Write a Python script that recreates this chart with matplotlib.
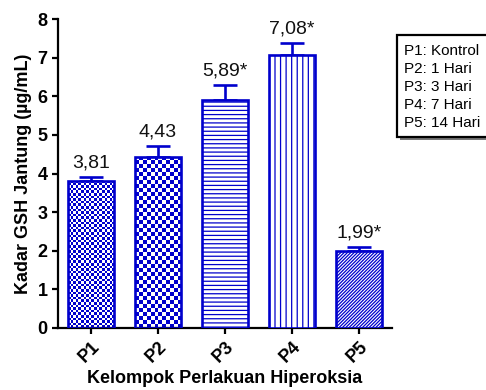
import numpy as np
import matplotlib
matplotlib.use("Agg")
import matplotlib.pyplot as plt
from matplotlib.patches import Rectangle
from matplotlib.colors import ListedColormap

plt.rcParams['font.family'] = ['Liberation Sans', 'DejaVu Sans']
plt.rcParams['hatch.linewidth'] = 0.9

# Data
groups = ["P1", "P2", "P3", "P4", "P5"]
means = [3.81, 4.43, 5.89, 7.08, 1.99]
errors = [0.10, 0.27, 0.40, 0.29, 0.10]
value_labels = ["3,81", "4,43", "5,89*", "7,08*", "1,99*"]
legend_lines = ["P1: Kontrol", "P2: 1 Hari", "P3: 3 Hari", "P4: 7 Hari", "P5: 14 Hari"]

BLUE = "#0000CC"
W, H, DPI = 486, 390, 100

fig = plt.figure(figsize=(W / DPI, H / DPI), dpi=DPI)
ax = fig.add_axes([58 / W, 1 - 328 / H, (392 - 58) / W, (328 - 19) / H])

x = np.arange(len(groups))
hatches = [None, None, "----", "|||", "//////////"]
faces = ["none", "none", "white", "white", "white"]
bars = ax.bar(x, means, width=0.69, color=faces, edgecolor=BLUE,
              linewidth=1.9, zorder=3)
for b, h in zip(bars, hatches):
    if h:
        b.set_hatch(h)

ax.errorbar(x, means, yerr=[np.zeros(len(errors)), errors], fmt="none",
            ecolor=BLUE, elinewidth=1.9, capsize=8.5, capthick=1.9, zorder=2)

ax.set_xlim(-0.49, 4.49)
ax.set_ylim(0, 8)

# Checkerboard fills for the first two groups
fig.canvas.draw()
cmap = ListedColormap(["white", BLUE])
for idx, cell in [(0, 2.6), (1, 4.0)]:
    b = bars[idx]
    x0, y0 = b.get_x(), 0
    x1, y1 = b.get_x() + b.get_width(), b.get_height()
    p0 = ax.transData.transform((x0, y0))
    p1 = ax.transData.transform((x1, y1))
    nx = max(1, int(round((p1[0] - p0[0]) / cell)))
    ny = max(1, int(round((p1[1] - p0[1]) / cell)))
    grid = (np.add.outer(np.arange(ny), np.arange(nx)) % 2).astype(float)
    im = ax.imshow(grid, cmap=cmap, vmin=0, vmax=1, extent=(x0, x1, y0, y1),
                   origin="lower", interpolation="nearest", aspect="auto",
                   zorder=2.5)
    im.set_clip_path(b)
ax.set_xlim(-0.49, 4.49)
ax.set_ylim(0, 8)

for xi, m, e, lab in zip(x, means, errors, value_labels):
    ax.annotate(lab, (xi, m + e), xytext=(0, 4), textcoords="offset points",
                ha="center", va="bottom", fontsize=14, color="#111111")

for s in ["top", "right"]:
    ax.spines[s].set_visible(False)
for s in ["left", "bottom"]:
    ax.spines[s].set_linewidth(1.6)
ax.tick_params(axis="both", width=1.6, length=4, labelsize=13)
ax.set_yticks(range(0, 9))
ax.set_xticks(x)
ax.set_xticklabels(groups, rotation=45, ha="right", rotation_mode="anchor",
                   fontweight="bold")
for t in ax.get_yticklabels():
    t.set_fontweight("bold")

ax.set_ylabel("Kadar GSH Jantung (\u00b5g/mL)", fontsize=13, fontweight="bold",
              labelpad=4)
ax.set_xlabel("Kelompok Perlakuan Hiperoksia", fontsize=13, fontweight="bold",
              labelpad=3)

# Legend box with drop shadow
bx0, by_top, bx1, by_bot = 397, 35, 500, 137
fig.add_artist(Rectangle(((bx0 + 3) / W, 1 - (by_bot + 3) / H),
                         (bx1 - bx0) / W, (by_bot - by_top) / H,
                         transform=fig.transFigure, facecolor="#777777",
                         edgecolor="none", zorder=4))
fig.add_artist(Rectangle((bx0 / W, 1 - by_bot / H), (bx1 - bx0) / W,
                         (by_bot - by_top) / H, transform=fig.transFigure,
                         facecolor="white", edgecolor="black", linewidth=1.6,
                         zorder=5))
for i, line in enumerate(legend_lines):
    fig.text(404 / W, 1 - (51 + 18 * i) / H, line, fontsize=11,
             va="center", ha="left", zorder=6)

fig.savefig("out.png", dpi=DPI)
